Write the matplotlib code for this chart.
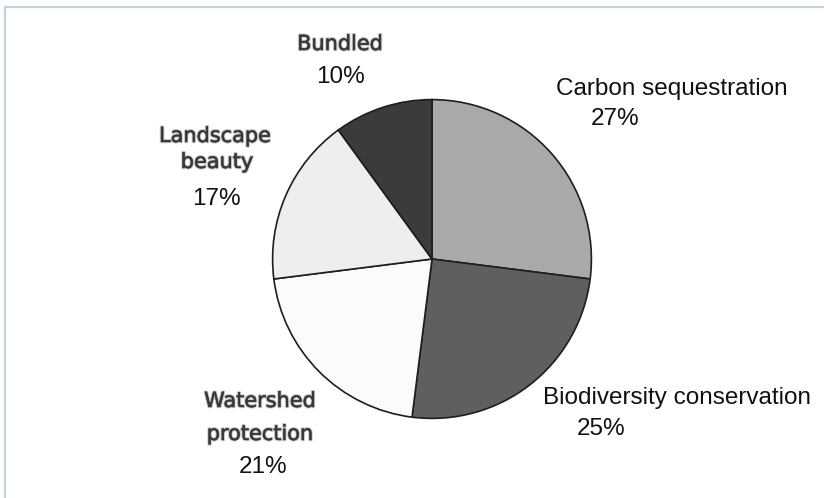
import matplotlib
matplotlib.use("Agg")
import matplotlib.pyplot as plt
import matplotlib.patheffects as pe
from matplotlib.lines import Line2D

# Share of payment-for-ecosystem-services schemes by service type
categories = ["Carbon sequestration", "Biodiversity conservation",
              "Watershed protection", "Landscape beauty", "Bundled"]
shares = [27, 25, 21, 17, 10]
colors = ["#a9a9a9", "#5f5f5f", "#fbfbfb", "#eeeeee", "#3b3b3b"]

W, H = 824, 498
fig = plt.figure(figsize=(W / 100, H / 100), dpi=100)
fig.patch.set_facecolor("white")

def fx(px):
    return px / W

def fy(py):
    return 1 - py / H

# pie axes (square box in pixels)
cx, cy, r = 432, 259, 161
ax = fig.add_axes([fx(cx - r), fy(cy + r), 2 * r / W, 2 * r / H])
ax.pie(shares, colors=colors, startangle=90, counterclock=False,
       wedgeprops=dict(edgecolor="#1e1e1e", linewidth=1.2))
ax.set_xlim(-1.01, 1.01)
ax.set_ylim(-1.01, 1.01)
ax.set_aspect("equal")
ax.axis("off")

# thin frame at top and left
fig.add_artist(Line2D([fx(4.5), 1], [fy(7.5), fy(7.5)], color="#c6d1d9", lw=1.6,
                      transform=fig.transFigure))
fig.add_artist(Line2D([fx(4.5), fx(4.5)], [fy(7.5), 0], color="#c6d1d9", lw=1.6,
                      transform=fig.transFigure))

crisp = dict(family="Liberation Sans", fontsize=17.5, color="#111111")
soft = dict(family="DejaVu Sans", fontsize=15, color="#383838",
            path_effects=[pe.Stroke(linewidth=1.8, foreground="#c8c8c8"),
                          pe.Stroke(linewidth=0.3, foreground="#383838"),
                          pe.Normal()])

pct = {c: f"{v}%" for c, v in zip(categories, shares)}

# Carbon sequestration
fig.text(fx(672), fy(95), "Carbon sequestration", ha="center", va="baseline", **crisp)
fig.text(fx(615), fy(125), pct["Carbon sequestration"], ha="center", va="baseline", **crisp)

# Biodiversity conservation
fig.text(fx(677), fy(404), "Biodiversity conservation", ha="center", va="baseline", **crisp)
fig.text(fx(601), fy(435), pct["Biodiversity conservation"], ha="center", va="baseline", **crisp)

# Watershed protection
fig.text(fx(260), fy(407), "Watershed", ha="center", va="baseline", **soft)
fig.text(fx(260), fy(440), "protection", ha="center", va="baseline", **soft)
fig.text(fx(263), fy(473), pct["Watershed protection"], ha="center", va="baseline", **crisp)

# Landscape beauty
fig.text(fx(215), fy(142), "Landscape", ha="center", va="baseline", **soft)
fig.text(fx(217), fy(168), "beauty", ha="center", va="baseline", **soft)
fig.text(fx(216), fy(205), pct["Landscape beauty"], ha="center", va="baseline", **crisp)

# Bundled
fig.text(fx(340), fy(50), "Bundled", ha="center", va="baseline", **soft)
fig.text(fx(340), fy(83), pct["Bundled"], ha="center", va="baseline", **crisp)

fig.savefig("out.png", dpi=100, facecolor="white")
